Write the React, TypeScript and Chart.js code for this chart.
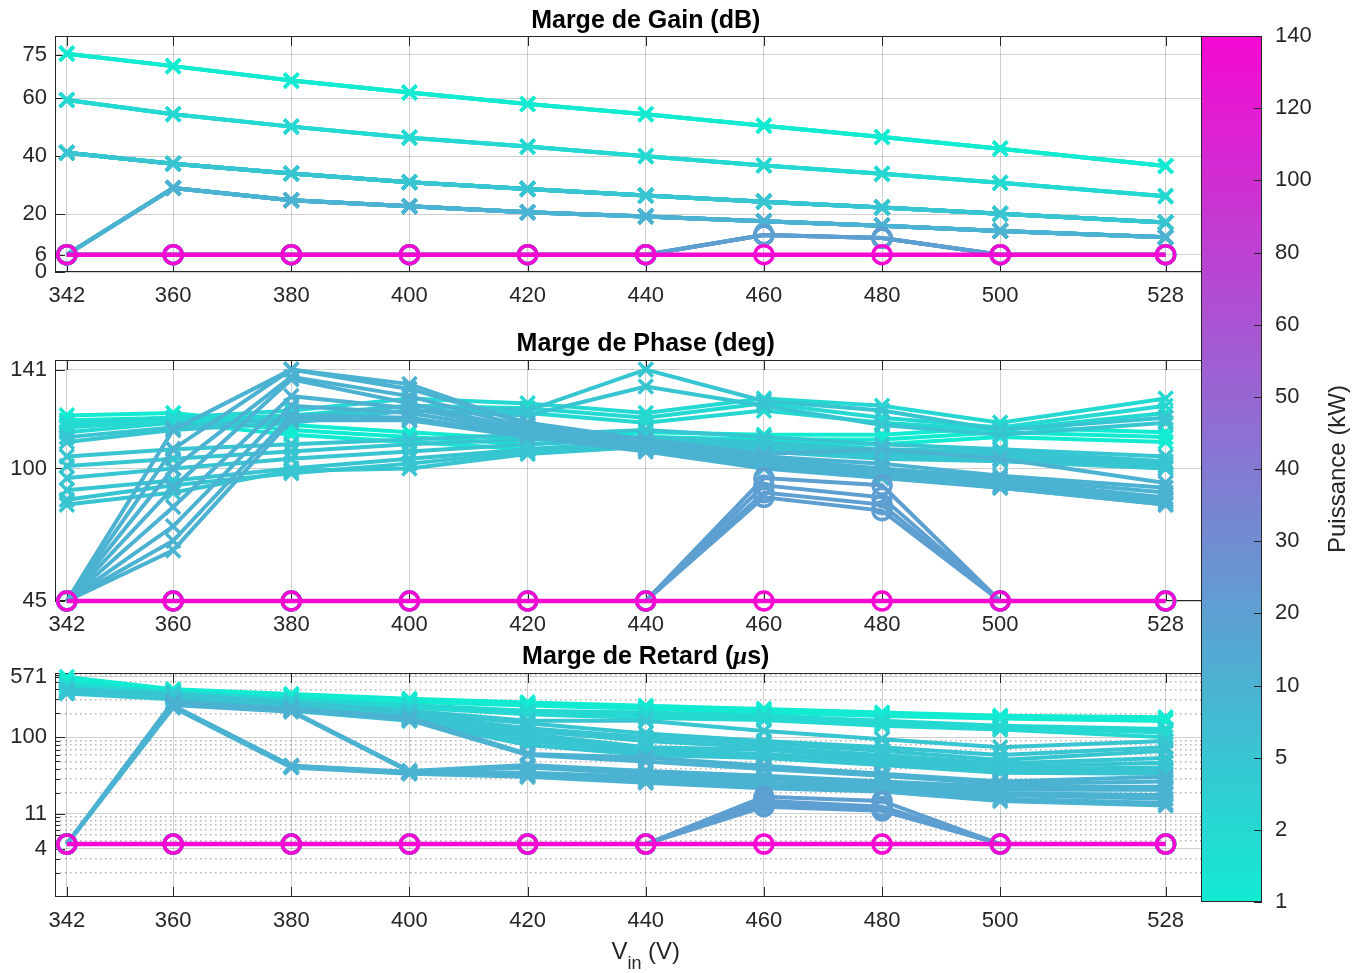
import React, { useEffect, useRef } from 'react';
import { Chart, registerables } from 'chart.js';

Chart.register(...registerables);

// ---------------- DATA ----------------
const vin = [342, 360, 380, 400, 420, 440, 460, 480, 500, 528];
const powerLabels = ['1', '2', '5', '10', '20', '30', '40', '50', '60', '80', '100', '120', '140'];
const gainTicks = [0, 6, 20, 40, 60, 75];
const phaseTicks = [45, 100, 141];
const retardTicks = [4, 11, 100, 571];
const retardMinor = [2, 3, 5, 6, 7, 8, 9, 10, 20, 30, 40, 50, 60, 70, 80, 90, 200, 300, 400, 500, 600];

const gain1kW = [75.4, 71.1, 66.1, 62.0, 58.0, 54.5, 50.5, 46.6, 42.6, 36.6];
const gain2kW = [59.4, 54.5, 50.2, 46.4, 43.3, 40.0, 36.8, 33.9, 30.8, 26.2];
const gain5kW = [41.2, 37.4, 34.0, 31.0, 28.7, 26.4, 24.3, 22.3, 20.1, 17.1];
const gain10kW = [6, 29.0, 24.8, 22.7, 20.6, 19.2, 17.5, 16.0, 14.2, 12.0];
const gain20kW = [6, 6, 6, 6, 6, 6, 12.8, 11.7, 6, 6];
const gain140kW = [6, 6, 6, 6, 6, 6, 6, 6, 6, 6];

const phase1kW = [
  [122, 123, 118, 115, 112, 115, 114, 114, 117, 115],
  [120, 121, 116, 113, 110, 113, 112, 112, 115, 113],
  [118, 119, 114, 111, 108, 111, 111, 110, 113, 111],
];
const phase2kW = [
  [119, 121, 124, 129, 127, 123, 129, 126, 119, 129],
  [117, 120, 122, 126, 125, 121, 127, 121, 117, 126],
  [115, 119, 120, 124, 123, 119, 124, 119, 116, 123],
];
const phase5kW = [
  [113, 117, 121, 126, 124, 141, 128, 124, 116, 121],
  [111, 116, 119, 124, 122, 134, 126, 118, 114, 119],
  [105, 108, 110, 112, 114, 116, 113, 110, 108, 105],
  [101, 104, 107, 110, 112, 113, 111, 108, 107, 103],
  [96, 100, 104, 107, 110, 112, 110, 107, 106, 102],
  [91, 95, 100, 104, 108, 111, 109, 106, 105, 100],
  [87, 93, 98, 102, 107, 110, 108, 105, 104, 101],
  [85, 90, 99, 100, 106, 109, 107, 104, 103, 100],
];
const phase10kW = [
  [45, 116, 141, 133, 119, 112, 106, 108, 104, 94],
  [45, 108, 141, 135, 118, 111, 105, 102, 97, 92],
  [45, 100, 138, 130, 117, 110, 104, 100, 96, 90],
  [45, 92, 137, 127, 116, 109, 103, 99, 95, 88],
  [45, 84, 130, 125, 116, 109, 102, 98, 94, 87],
  [45, 76, 126, 123, 115, 108, 101, 97, 93, 86],
  [45, 70, 122, 121, 114, 108, 101, 97, 92, 85],
  [45, 66, 120, 120, 113, 107, 100, 96, 92, 85],
];
const phase20kW = [
  [45, 45, 45, 45, 45, 45, 96, 93, 45, 45],
  [45, 45, 45, 45, 45, 45, 93, 88, 45, 45],
  [45, 45, 45, 45, 45, 45, 90, 85, 45, 45],
  [45, 45, 45, 45, 45, 45, 88, 82.5, 45, 45],
];
const phase140kW = [[45, 45, 45, 45, 45, 45, 45, 45, 45, 45]];

const retard1kW = [
  [571, 400, 348, 304, 274, 249, 227, 205, 186, 178],
  [520, 390, 335, 290, 262, 238, 215, 195, 178, 170],
  [490, 380, 325, 280, 250, 228, 205, 185, 172, 160],
];
const retard2kW = [
  [461, 370, 300, 255, 215, 205, 186, 161, 140, 127],
  [440, 360, 290, 245, 205, 190, 175, 150, 133, 115],
  [420, 350, 280, 236, 195, 175, 165, 140, 125, 100],
];
const retard5kW = [
  [400, 348, 274, 215, 161, 161, 120, 95, 75, 90],
  [390, 340, 265, 205, 150, 112, 90, 75, 60, 75],
  [384, 330, 255, 195, 130, 100, 83, 68, 52, 68],
  [375, 325, 245, 185, 121, 90, 75, 60, 47, 55],
  [370, 320, 240, 178, 110, 75, 70, 55, 43, 48],
  [365, 315, 235, 170, 100, 70, 62, 51, 40, 42],
  [360, 310, 225, 165, 90, 65, 58, 48, 38, 38],
  [355, 300, 215, 161, 80, 60, 55, 45, 36, 35],
];
const retard10kW = [
  [4.6, 280, 230, 178, 62, 56, 44, 35, 28, 32],
  [4.6, 270, 220, 165, 60, 50, 40, 33, 26, 28],
  [4.6, 260, 215, 38, 45, 38, 33, 28, 24, 24],
  [4.6, 255, 210, 37, 42, 35, 30, 26, 22, 22],
  [4.6, 250, 44, 37, 36, 32, 27, 24, 20, 19],
  [4.6, 245, 44, 36, 34, 30, 25, 23, 19, 17],
  [4.6, 240, 43, 36, 33, 28, 24, 22, 17, 15],
  [4.6, 236, 42, 35, 32, 27, 23, 21, 16, 14],
];
const retard20kW = [
  [4.6, 4.6, 4.6, 4.6, 4.6, 4.6, 18, 16, 4.6, 4.6],
  [4.6, 4.6, 4.6, 4.6, 4.6, 4.6, 16, 13.5, 4.6, 4.6],
  [4.6, 4.6, 4.6, 4.6, 4.6, 4.6, 14.5, 12.5, 4.6, 4.6],
  [4.6, 4.6, 4.6, 4.6, 4.6, 4.6, 13.5, 12, 4.6, 4.6],
];
const retard140kW = [[4.6, 4.6, 4.6, 4.6, 4.6, 4.6, 4.6, 4.6, 4.6, 4.6]];

// ---------------- STYLE ----------------
const FONT = '"Liberation Sans", Arial, Helvetica, sans-serif';
const TXT = '#262626';
const GRID = 'rgba(38,38,38,0.22)';
const MINOR = 'rgba(38,38,38,0.35)';
const C0 = [18, 235, 210];
const C1 = [245, 8, 210];

function cmap(t: number) {
  return `rgb(${C0.map((c, i) => Math.round(c + (C1[i] - c) * t)).join(',')})`;
}
function powerPos(p: number) {
  const v = powerLabels.map(Number);
  for (let i = 0; i < v.length - 1; i++) {
    if (p <= v[i + 1]) return (i + (p - v[i]) / (v[i + 1] - v[i])) / (v.length - 1);
  }
  return 1;
}

const groups = [
  { power: 1, gain: gain1kW, phases: phase1kW, retards: retard1kW, circle: false },
  { power: 2, gain: gain2kW, phases: phase2kW, retards: retard2kW, circle: false },
  { power: 5, gain: gain5kW, phases: phase5kW, retards: retard5kW, circle: false },
  { power: 10, gain: gain10kW, phases: phase10kW, retards: retard10kW, circle: false },
  { power: 20, gain: gain20kW, phases: phase20kW, retards: retard20kW, circle: true },
  { power: 140, gain: gain140kW, phases: phase140kW, retards: retard140kW, circle: true },
];

const series = groups.flatMap((g) =>
  g.phases.map((ph, k) => ({
    power: g.power,
    color: cmap(powerPos(g.power)),
    gain: g.gain,
    phase: ph,
    retard: g.retards[k],
    circle: g.circle,
    lw: g.power >= 140 ? 4.5 : 4,
    cr: 9,
    pw: 3.5,
  }))
);

type Part = { text: string; f: string; dy?: number };

function drawParts(ctx: CanvasRenderingContext2D, parts: Part[], cx: number, y: number) {
  let total = 0;
  const widths = parts.map((p) => {
    ctx.font = p.f;
    const w = ctx.measureText(p.text).width;
    total += w;
    return w;
  });
  let x = cx - total / 2;
  ctx.textAlign = 'left';
  ctx.textBaseline = 'alphabetic';
  parts.forEach((p, i) => {
    ctx.font = p.f;
    ctx.fillText(p.text, x, y + (p.dy || 0));
    x += widths[i];
  });
}

function makeDeco(cfg: any) {
  return {
    id: 'axesDeco',
    beforeDatasetsDraw(chart: any) {
      const { ctx, chartArea: a, scales } = chart;
      ctx.save();
      ctx.strokeStyle = TXT;
      ctx.lineWidth = 1;
      ctx.beginPath();
      scales.x.ticks.forEach((t: any) => {
        const px = Math.round(scales.x.getPixelForValue(t.value)) + 0.5;
        ctx.moveTo(px, a.bottom);
        ctx.lineTo(px, a.bottom - 10);
        ctx.moveTo(px, a.top);
        ctx.lineTo(px, a.top + 10);
      });
      scales.y.ticks.forEach((t: any) => {
        const py = Math.round(scales.y.getPixelForValue(t.value)) + 0.5;
        const len = cfg.majors.includes(t.value) ? 10 : 5;
        ctx.moveTo(a.left, py);
        ctx.lineTo(a.left + len, py);
      });
      ctx.stroke();
      ctx.strokeRect(Math.round(a.left) + 0.5, Math.round(a.top) + 0.5, Math.round(a.right - a.left), Math.round(a.bottom - a.top) - 1);
      ctx.restore();
    },
    afterDraw(chart: any) {
      const { ctx, chartArea: a } = chart;
      ctx.save();
      ctx.fillStyle = '#000';
      drawParts(ctx, cfg.title, (a.left + a.right) / 2, cfg.titleY);
      if (cfg.xlabel) {
        ctx.fillStyle = TXT;
        drawParts(ctx, cfg.xlabel, (a.left + a.right) / 2, cfg.xlabelY);
      }
      ctx.restore();
    },
  };
}

function makeSubplot(canvas: HTMLCanvasElement, cfg: any) {
  const datasets = series.map((s: any, i) => {
    const vals: number[] = s[cfg.metric];
    const isCircle = (c: any) => s.circle || (c && c.parsed && c.parsed.y === cfg.clip);
    return {
      data: vin.map((x, j) => ({ x, y: vals[j] })),
      borderColor: s.color,
      backgroundColor: s.color,
      borderWidth: s.lw,
      pointStyle: (c: any) => (isCircle(c) ? 'circle' : 'crossRot'),
      pointRadius: (c: any) => (isCircle(c) ? s.cr : 10),
      pointBorderWidth: s.pw,
      pointBorderColor: s.color,
      pointBackgroundColor: 'rgba(0,0,0,0)',
      order: series.length - i,
      clip: false,
      fill: false,
      tension: 0,
    };
  });
  const majors: number[] = cfg.majors;
  const allTicks: number[] = [...(cfg.minors || []), ...majors].sort((a, b) => a - b);
  return new Chart(canvas, {
    type: 'line',
    data: { datasets } as any,
    options: {
      responsive: false,
      animation: false,
      devicePixelRatio: 1,
      events: [],
      layout: { padding: { top: cfg.padTop, right: 10, left: 0, bottom: 0 } },
      plugins: { legend: { display: false }, tooltip: { enabled: false }, title: { display: false } },
      scales: {
        x: {
          type: 'linear',
          min: 340,
          max: 540,
          afterBuildTicks: (s: any) => {
            s.ticks = vin.map((v) => ({ value: v }));
          },
          afterFit: (s: any) => {
            s.height = cfg.xAxisHeight;
          },
          ticks: {
            autoSkip: false,
            maxRotation: 0,
            padding: 11,
            color: TXT,
            font: { family: FONT, size: 22 },
            callback: (v: any) => String(v),
          },
          grid: { color: GRID, drawTicks: false, lineWidth: 1 },
          border: { display: false },
        },
        y: {
          type: cfg.log ? 'logarithmic' : 'linear',
          min: cfg.min,
          max: cfg.max,
          afterBuildTicks: (s: any) => {
            s.ticks = allTicks.map((v) => ({ value: v }));
          },
          afterFit: (s: any) => {
            s.width = 55;
          },
          ticks: {
            autoSkip: false,
            padding: 8,
            color: TXT,
            font: { family: FONT, size: 22 },
            callback: (v: any) => (majors.includes(Number(v)) ? String(v) : ''),
          },
          grid: {
            drawTicks: false,
            lineWidth: (c: any) => (c.tick && majors.includes(c.tick.value) ? 1 : 1.5),
            color: (c: any) => (c.tick && majors.includes(c.tick.value) ? GRID : MINOR),
          },
          border: {
            display: false,
            dash: (c: any) => (c.tick && majors.includes(c.tick.value) ? [] : [1.5, 3.5]),
          },
        },
      },
    } as any,
    plugins: [makeDeco(cfg)],
  });
}

function makeColorbar(canvas: HTMLCanvasElement) {
  const deco = {
    id: 'cbDeco',
    afterDraw(chart: any) {
      const { ctx, chartArea: a, scales } = chart;
      const ys = scales.y;
      ctx.save();
      ctx.strokeStyle = TXT;
      ctx.lineWidth = 1;
      ctx.strokeRect(Math.round(a.left) + 0.5, Math.round(a.top) + 0.5, Math.round(a.right - a.left) - 1, Math.round(a.bottom - a.top) - 1);
      ctx.beginPath();
      ys.ticks.forEach((t: any) => {
        const py = Math.round(ys.getPixelForValue(t.value)) + 0.5;
        ctx.moveTo(a.right, py);
        ctx.lineTo(a.right - 8, py);
      });
      ctx.stroke();
      ctx.translate(143, (a.top + a.bottom) / 2);
      ctx.rotate(-Math.PI / 2);
      ctx.font = `24px ${FONT}`;
      ctx.fillStyle = TXT;
      ctx.textAlign = 'center';
      ctx.textBaseline = 'middle';
      ctx.fillText('Puissance (kW)', 0, 0);
      ctx.restore();
    },
  };
  return new Chart(canvas, {
    type: 'bar',
    data: {
      labels: [''],
      datasets: [
        {
          data: [[0, powerLabels.length - 1]],
          backgroundColor: (c: any) => {
            const ch = c.chart;
            const a = ch.chartArea;
            if (!a) return cmap(0);
            const g = ch.ctx.createLinearGradient(0, a.bottom, 0, a.top);
            g.addColorStop(0, cmap(0));
            g.addColorStop(1, cmap(1));
            return g;
          },
          borderWidth: 0,
          barPercentage: 1,
          categoryPercentage: 1,
        },
      ],
    } as any,
    options: {
      responsive: false,
      animation: false,
      devicePixelRatio: 1,
      events: [],
      layout: { padding: { left: 6, top: 36, bottom: 71, right: 0 } },
      plugins: { legend: { display: false }, tooltip: { enabled: false } },
      scales: {
        x: { display: false },
        y: {
          position: 'right',
          min: 0,
          max: powerLabels.length - 1,
          afterBuildTicks: (s: any) => {
            s.ticks = powerLabels.map((_, i) => ({ value: i }));
          },
          afterFit: (s: any) => {
            s.width = 102;
          },
          ticks: {
            autoSkip: false,
            padding: 13,
            color: TXT,
            font: { family: FONT, size: 22 },
            callback: (v: any) => powerLabels[Number(v)],
          },
          grid: { display: false, drawTicks: false },
          border: { display: false },
        },
      },
    } as any,
    plugins: [deco],
  });
}

const BOLD = `bold 25px ${FONT}`;

export default function App() {
  const gRef = useRef<HTMLCanvasElement>(null);
  const pRef = useRef<HTMLCanvasElement>(null);
  const rRef = useRef<HTMLCanvasElement>(null);
  const cRef = useRef<HTMLCanvasElement>(null);

  useEffect(() => {
    const charts = [
      makeSubplot(gRef.current!, {
        metric: 'gain',
        clip: 6,
        padTop: 36,
        xAxisHeight: 40,
        min: 0,
        max: 81.5,
        majors: gainTicks,
        title: [{ text: 'Marge de Gain (dB)', f: BOLD }],
        titleY: 28,
      }),
      makeSubplot(pRef.current!, {
        metric: 'phase',
        clip: 45,
        padTop: 48,
        xAxisHeight: 39,
        min: 45,
        max: 145,
        majors: phaseTicks,
        title: [{ text: 'Marge de Phase (deg)', f: BOLD }],
        titleY: 39,
      }),
      makeSubplot(rRef.current!, {
        metric: 'retard',
        clip: 4.6,
        padTop: 33,
        xAxisHeight: 76,
        min: 1,
        max: 640,
        log: true,
        majors: retardTicks,
        minors: retardMinor,
        title: [
          { text: 'Marge de Retard (', f: BOLD },
          { text: 'μ', f: `italic bold 25px "Liberation Serif", serif` },
          { text: 's)', f: BOLD },
        ],
        titleY: 24,
        xlabel: [
          { text: 'V', f: `24px ${FONT}` },
          { text: 'in', f: `18px ${FONT}`, dy: 10 },
          { text: ' (V)', f: `24px ${FONT}` },
        ],
        xlabelY: 319,
      }),
      makeColorbar(cRef.current!),
    ];
    return () => charts.forEach((c) => c.destroy());
  }, []);

  return (
    <div style={{ position: 'absolute', left: 0, top: 0, width: 1364, height: 973, background: '#fff', overflow: 'hidden' }}>
      <canvas ref={gRef} width={1250} height={312} style={{ position: 'absolute', left: 0, top: 0 }} />
      <canvas ref={pRef} width={1250} height={328} style={{ position: 'absolute', left: 0, top: 312 }} />
      <canvas ref={rRef} width={1250} height={333} style={{ position: 'absolute', left: 0, top: 640 }} />
      <canvas ref={cRef} width={169} height={973} style={{ position: 'absolute', left: 1195, top: 0, zIndex: 2 }} />
    </div>
  );
}
